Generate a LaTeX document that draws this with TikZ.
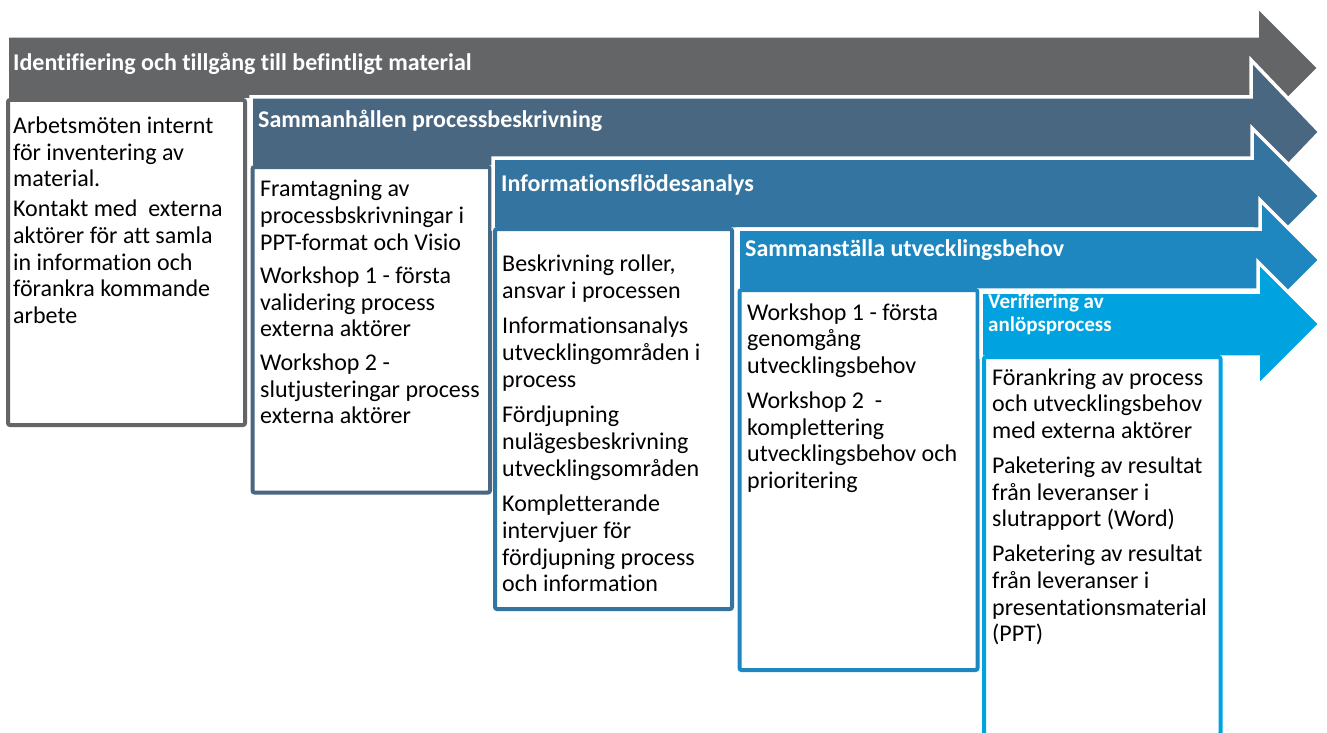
\documentclass[tikz,border=0pt]{standalone}
\usepackage{fontspec}
\setmainfont{Carlito}[Ligatures=CommonOff]
\definecolor{stageA}{RGB}{100,101,103}
\definecolor{stageB}{RGB}{74,103,130}
\definecolor{stageC}{RGB}{52,116,160}
\definecolor{stageD}{RGB}{30,135,192}
\definecolor{stageE}{RGB}{0,163,224}
\newcommand{\lines}[1]{\begin{tabular}[t]{@{}l@{}}#1\end{tabular}}
\begin{document}
\begin{tikzpicture}[x=1pt,y=-1pt,
  stagearrow/.style={draw=white, line width=3.5pt, line join=miter},
  card/.style={line width=4pt, fill=white, rounded corners=2pt},
  heading/.style={anchor=base west, inner sep=0pt, text=white,
    font=\fontsize{24}{26}\selectfont\bfseries},
  smallheading/.style={anchor=base west, inner sep=0pt, text=white,
    font=\fontsize{21}{23}\selectfont\bfseries},
  bodytext/.style={anchor=base west, inner sep=0pt, text=black,
    font=\fontsize{24}{26.7}\selectfont}]
\useasboundingbox (0,0) rectangle (1327,733);

% stage 1
\filldraw[stagearrow, fill=stageA] (7,36) -- (1257,36) -- (1257,6) -- (1319,68)
  -- (1257,130) -- (1257,100) -- (7,100) -- cycle;
\draw[card, draw=stageA] (8,100) rectangle (245,425);
\node[heading] (h1) at (13,71) {Identifiering och tillgång till befintligt material};
\node[bodytext] (b1) at (13,133.3) {\lines{Arbetsmöten internt\\ för inventering av\\ material.\\[3.3pt]
  Kontakt med\ \ externa\\ aktörer för att samla\\ in information och\\ förankra kommande\\ arbete}};

% stage 2
\filldraw[stagearrow, fill=stageB] (251,97) -- (1251,97) -- (1251,60) -- (1320,132)
  -- (1251,204) -- (1251,167) -- (251,167) -- cycle;
\draw[card, draw=stageB] (252.5,167) rectangle (490,492.5);
\node[heading] (h2) at (258,128) {Sammanhållen processbeskrivning};
\node[bodytext] (b2) at (260,196.7) {\lines{Framtagning av\\ processbskrivningar i\\ PPT-format och Visio\\[6.7pt]
  Workshop 1 - första\\ validering process\\ externa aktörer\\[6.7pt]
  Workshop 2 -\\ slutjusteringar process\\ externa aktörer}};

% stage 3
\filldraw[stagearrow, fill=stageC] (493,158) -- (1252,158) -- (1252,128) -- (1320,196)
  -- (1252,264) -- (1252,229) -- (493,229) -- cycle;
\draw[card, draw=stageC] (495,229) rectangle (732,609);
\node[heading] (h3) at (501,191) {Informationsflödesanalys};
\node[bodytext] (b3) at (502,271.7) {\lines{Beskrivning roller,\\ ansvar i processen\\[8.8pt]
  Informationsanalys\\ utvecklingområden i\\ process\\[8.8pt]
  Fördjupning\\ nulägesbeskrivning\\ utvecklingsområden\\[8.8pt]
  Kompletterande\\ intervjuer för\\ fördjupning process\\ och information}};

% stage 4
\filldraw[stagearrow, fill=stageD] (738,229) -- (1260,229) -- (1260,200) -- (1320,260)
  -- (1260,320) -- (1260,290) -- (738,290) -- cycle;
\draw[card, draw=stageD] (739.5,290) rectangle (977.5,670);
\node[heading] (h4) at (745,256) {Sammanställa utvecklingsbehov};
\node[bodytext] (b4) at (747,320) {\lines{Workshop 1 - första\\ genomgång\\ utvecklingsbehov\\[8.3pt]
  Workshop 2\ \ -\\ komplettering\\ utvecklingsbehov och\\ prioritering}};

% stage 5
\filldraw[stagearrow, fill=stageE] (981,292) -- (1258,292) -- (1258,262) -- (1320,324)
  -- (1258,386) -- (1258,357) -- (981,357) -- cycle;
\draw[card, draw=stageE] (984,357) rectangle (1220.5,735);
\node[smallheading] (h5) at (988,308) {\lines{Verifiering av\\ anlöpsprocess}};
\node[bodytext] (b5) at (992,385) {\lines{Förankring av process\\ och utvecklingsbehov\\ med externa aktörer\\[8.2pt]
  Paketering av resultat\\ från leveranser i\\ slutrapport (Word)\\[8.2pt]
  Paketering av resultat\\ från leveranser i\\ presentationsmaterial\\ (PPT)}};
\end{tikzpicture}
\end{document}
